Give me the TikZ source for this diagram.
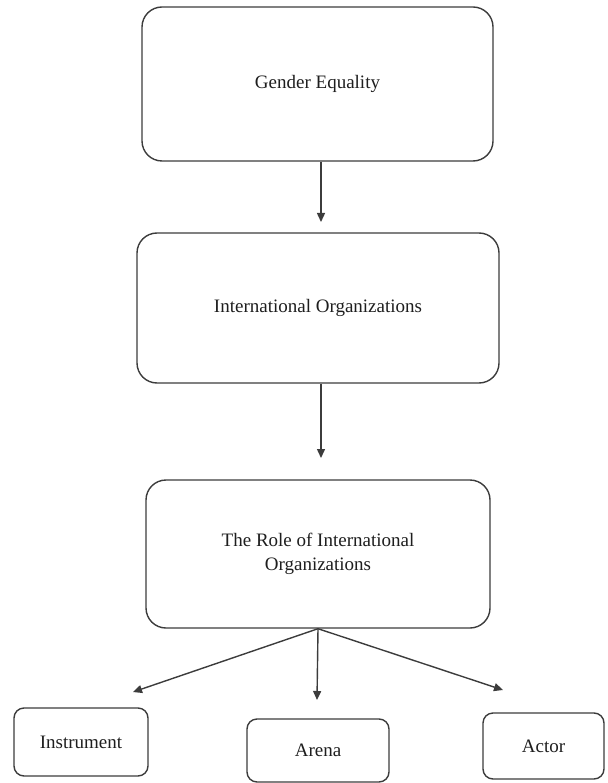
\documentclass[tikz,border=0pt]{standalone}
\usepackage{fontspec}
\setmainfont{Liberation Serif}
\usetikzlibrary{arrows.meta}
\definecolor{linegray}{HTML}{3C3C3C}
\definecolor{textgray}{HTML}{1E1E1E}
\begin{document}
\begin{tikzpicture}[x=1pt,y=-1pt,
  bigbox/.style={draw=linegray, line width=1.4pt, rounded corners=20pt, inner sep=0pt,
    align=center, text=textgray, font=\fontsize{19}{24.5}\selectfont},
  smallbox/.style={bigbox, rounded corners=10pt},
  arr/.style={draw=linegray, line width=1.4pt, -{Triangle[length=9pt,width=8pt]}}]
\useasboundingbox (0,0) rectangle (607,783);

\node[bigbox, minimum width=351pt, minimum height=154pt] (b1) at (317.5,84) {Gender Equality};
\node[bigbox, minimum width=362pt, minimum height=150pt] (b2) at (318,308) {International Organizations};
\node[bigbox, minimum width=344pt, minimum height=148pt] (b3) at (318,554) {The Role of International\\Organizations};

\node[smallbox, minimum width=134pt, minimum height=68pt] (ins) at (81,742) {Instrument};
\node[smallbox, minimum width=142pt, minimum height=63pt] (are) at (318,750.5) {Arena};
\node[smallbox, minimum width=121pt, minimum height=66pt] (act) at (543.5,746) {Actor};

\coordinate (t1) at (321,222);
\coordinate (t2) at (321,458);
\coordinate (t3) at (133,692);
\coordinate (t4) at (317,700);
\coordinate (t5) at (503,690);

\draw[arr] (b1.south -| t1) -- (t1);
\draw[arr] (b2.south -| t2) -- (t2);
\draw[arr] (b3.south) -- (t3);
\draw[arr] (b3.south) -- (t4);
\draw[arr] (b3.south) -- (t5);
\end{tikzpicture}
\end{document}
